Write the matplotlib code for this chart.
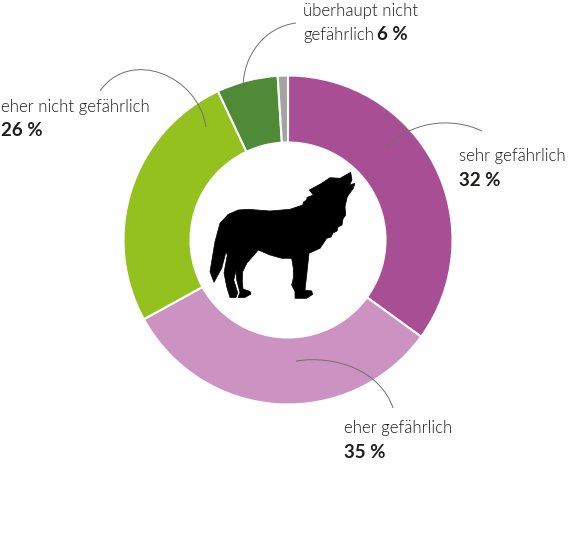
import matplotlib
matplotlib.use('Agg')
import matplotlib.pyplot as plt
from matplotlib.path import Path
from matplotlib.patches import PathPatch

# Anteile wie im Ring gezeichnet, im Uhrzeigersinn ab 12 Uhr
SEGMENTS = ['sehr', 'eher', 'eher nicht', 'ueberhaupt nicht', 'keine Angabe']
SHARES = [35, 32, 26, 6, 1]
COLORS = ['#a84e95', '#cc93c2', '#95c11f', '#4f8a36', '#a3a3a3']

LABELS = ['sehr gefährlich', 'eher gefährlich', 'eher nicht gefährlich', 'gefährlich']
PERCENTS = ['32 %', '35 %', '26 %', '6 %']

# Umriss Wolf in Bildpixeln
WOLF = [(350.7, 172.3), (352, 180), (349.5, 185), (355, 183.3), (353.3, 188.3),
        (347.3, 196.7), (345, 206.7), (345.7, 215), (343, 219), (342, 225),
        (338, 227), (337, 231), (333, 233), (331, 237), (326.7, 238.3), (320, 248.3),
        (309, 253.3), (306.7, 275), (305, 290), (311.7, 291), (312.7, 294.3),
        (306.7, 298.3), (295, 298.3), (295, 291.7), (291.7, 285), (293.3, 278.3),
        (293.3, 268.3), (291.7, 258.3), (281.7, 258.3), (270, 255), (258.3, 250),
        (246.7, 263.3), (242.7, 271.7), (242.3, 281.7), (243, 289), (250, 291.5),
        (251, 294), (245, 297.5), (238, 297.5), (240, 292.5), (236.7, 280),
        (236, 270.7), (233.7, 280), (237.7, 292.7), (236, 297.5), (230, 297.5),
        (226.7, 286.7), (224, 273), (227.3, 255), (226, 251.7), (221.7, 268.3),
        (214, 282.3), (210, 271.7), (215, 241.7), (220, 223.3), (228.3, 214.3),
        (238.3, 210), (248.3, 209.3), (270, 211), (290, 209.3), (302.7, 205),
        (303.5, 202), (306.7, 200), (307, 197.5), (313.3, 195), (309.3, 190),
        (321.7, 183.3), (330, 177.7), (340, 178.3), (350.7, 172.3)]

# Bezier-Linien zu den Beschriftungen: Start, Kontrollpunkte, Ende
LEADERS = [[(386, 148), (410, 122), (450, 116), (482, 131)],
           [(296, 361), (335, 355), (380, 370), (393, 408)],
           [(206, 127), (198, 75), (130, 48), (100, 91)],
           [(243, 88), (243, 55), (265, 27), (296, 23)]]

plt.rcParams['font.family'] = ['Lato', 'DejaVu Sans']

fig = plt.figure(figsize=(5.76, 5.6), dpi=100)
ax = fig.add_axes([0, 0, 1, 1])

# pie spiegelt sich bei umgedrehter y-Achse, daher counterclock=True
ax.pie(SHARES, colors=COLORS, center=(288, 240), radius=164.5, startangle=270,
       counterclock=True, wedgeprops={'width': 67, 'edgecolor': 'white', 'linewidth': 1.5},
       frame=True)
ax.set_xlim(0, 576)
ax.set_ylim(560, 0)
ax.set_aspect('equal')
ax.axis('off')

wolf_codes = [Path.MOVETO] + [Path.LINETO] * (len(WOLF) - 2) + [Path.CLOSEPOLY]
ax.add_patch(PathPatch(Path(WOLF, wolf_codes), facecolor='black', edgecolor='black', lw=0.5))

curve = [Path.MOVETO, Path.CURVE4, Path.CURVE4, Path.CURVE4]
for pts in LEADERS:
    ax.add_patch(PathPatch(Path(pts, curve), facecolor='none', edgecolor='#6f6f6f', lw=0.7))

TXT = '#1d1d1b'
kw = {'color': TXT, 'fontsize': 12.05, 'va': 'center', 'ha': 'left', 'fontweight': 300}
bkw = {'color': TXT, 'fontsize': 13.5, 'va': 'center', 'ha': 'left', 'fontweight': 'bold'}

ax.text(459, 156, LABELS[0], **kw)
ax.text(459, 180, PERCENTS[0], **bkw)
ax.text(344, 428, LABELS[1], **kw)
ax.text(344, 452, PERCENTS[1], **bkw)
ax.text(1, 107, LABELS[2], **kw)
ax.text(1, 131, PERCENTS[2], **bkw)
ax.text(303, 11, 'überhaupt nicht', **kw)
ax.text(303, 35, LABELS[3], **kw)
ax.text(377, 35, PERCENTS[3], **bkw)

fig.savefig('out.png', dpi=100)
